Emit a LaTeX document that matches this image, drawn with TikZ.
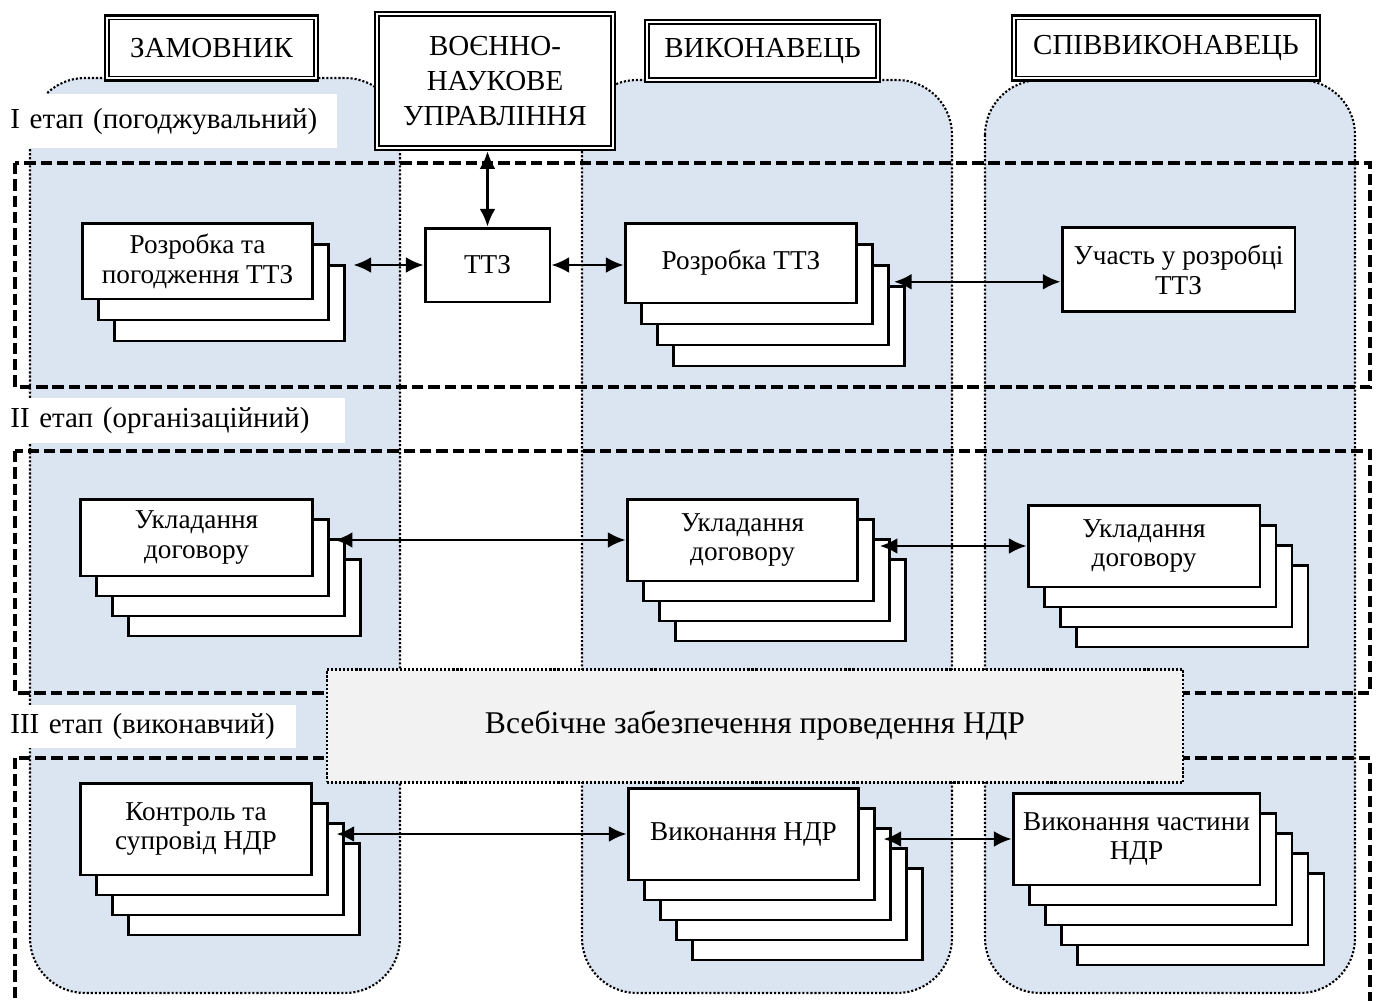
\documentclass[tikz,border=0pt]{standalone}
\usepackage{fontspec}
\setmainfont{Liberation Serif}
\usetikzlibrary{arrows.meta}

\definecolor{laneblue}{RGB}{219,229,241}
\definecolor{supgray}{RGB}{242,242,242}

\tikzset{
  lane/.style={fill=laneblue, draw=black, line width=1.2pt, dash pattern=on 1.2pt off 1.1pt, rounded corners=1.1cm},
  stage/.style={draw=black, line width=2pt, dash pattern=on 6.5pt off 2.8pt},
  stagelbl/.style={fill=white, anchor=north west, align=left, inner xsep=0.2cm, inner ysep=0pt, font=\fontsize{16.5}{20}\selectfont},
  hdr/.style={draw, fill=white, line width=1.5pt, align=center, inner sep=0pt, font=\fontsize{16.5}{20}\selectfont},
  card/.style={draw, fill=white, line width=1.7pt, align=center, inner sep=0pt, minimum width=4.64cm, minimum height=1.56cm, font=\fontsize{15.5}{17}\selectfont},
  support/.style={fill=supgray, draw=black, line width=1.2pt, dash pattern=on 1.2pt off 1.1pt, minimum width=17.12cm, minimum height=2.26cm, font=\fontsize{18}{20}\selectfont},
  link/.style={{Latex[length=10pt,width=9pt]}-{Latex[length=10pt,width=9pt]}, line width=1.4pt}
}

\begin{document}
\begin{tikzpicture}[x=0.02cm, y=-0.02cm]
\useasboundingbox (0,0) rectangle (1378,1000);

% lanes
\draw[lane] (30,78) rectangle (400,993);
\draw[lane] (582,80) rectangle (952,993);
\draw[lane] (985,80) rectangle (1355,993);

% stages
\draw[stage] (15,163) rectangle (1370,387);
\draw[stage] (15,451) rectangle (1370,693);
\draw[stage] (15,758) rectangle (1370,1020);

\node[stagelbl, text width=6.34cm, minimum height=1.08cm] (st1) at (0,94) {I етап (погоджувальний)};
\node[stagelbl, text width=6.5cm, minimum height=0.9cm] (st2) at (0,398) {II етап (організаційний)};
\node[stagelbl, text width=5.52cm, minimum height=0.86cm] (st3) at (0,705) {III етап (виконавчий)};

\node[support] (zab) at (755,726) {Всебічне забезпечення проведення НДР};

% headers
\node[hdr, minimum width=4.26cm, minimum height=1.3cm] (zam) at (211.5,48) {ЗАМОВНИК};
\node[hdr, minimum width=4.8cm, minimum height=2.76cm] (vnu) at (495,81) {ВОЄННО-\\НАУКОВЕ\\УПРАВЛІННЯ};
\node[hdr, minimum width=4.7cm, minimum height=1.24cm] (vyk) at (762.5,51) {ВИКОНАВЕЦЬ};
\node[hdr, minimum width=6.16cm, minimum height=1.3cm] (spv) at (1166,48) {СПІВВИКОНАВЕЦЬ};
\foreach \n in {zam,vnu,vyk,spv}
  \draw[line width=0.7pt] ([shift={(3pt,-3pt)}]\n.north west) rectangle ([shift={(-3pt,3pt)}]\n.south east);

% I stage
\foreach \k in {2,1} \node[card, minimum width=4.62cm, minimum height=1.52cm] (a1-\k) at (197.5+16*\k,261+21*\k) {};
\node[card, minimum width=4.62cm, minimum height=1.52cm] (a1) at (197.5,261) {Розробка та\\погодження ТТЗ};
\node[card, minimum width=2.5cm, minimum height=1.48cm] (ttz) at (487.5,265) {ТТЗ};
\foreach \k in {3,2,1} \node[card, minimum height=1.6cm] (a2-\k) at (741+16*\k,263+21*\k) {};
\node[card, minimum height=1.6cm] (a2) at (741,263) {Розробка ТТЗ};
\node[card, minimum width=4.66cm, minimum height=1.7cm] (a3) at (1178.5,269.5) {Участь у розробці\\ТТЗ};

% II stage
\foreach \k in {3,2,1} \node[card, minimum width=4.66cm, minimum height=1.54cm] (b1-\k) at (196.5+16*\k,537.5+20*\k) {};
\node[card, minimum width=4.66cm, minimum height=1.54cm] (b1) at (196.5,537.5) {Укладання\\договору};
\foreach \k in {3,2,1} \node[card, minimum width=4.62cm, minimum height=1.64cm] (b2-\k) at (742.5+16*\k,540+20*\k) {};
\node[card, minimum width=4.62cm, minimum height=1.64cm] (b2) at (742.5,540) {Укладання\\договору};
\foreach \k in {3,2,1} \node[card, minimum height=1.64cm] (b3-\k) at (1144+16*\k,546+20*\k) {};
\node[card, minimum height=1.64cm] (b3) at (1144,546) {Укладання\\договору};

% III stage
\foreach \k in {3,2,1} \node[card, minimum height=1.84cm] (c1-\k) at (196+16*\k,829+20*\k) {};
\node[card, minimum height=1.84cm] (c1) at (196,829) {Контроль та\\супровід НДР};
\foreach \k in {4,3,2,1} \node[card, minimum width=4.62cm, minimum height=1.84cm] (c2-\k) at (743.5+16*\k,834+20*\k) {};
\node[card, minimum width=4.62cm, minimum height=1.84cm] (c2) at (743.5,834) {Виконання НДР};
\foreach \k in {4,3,2,1} \node[card, minimum width=4.94cm, minimum height=1.84cm] (c3-\k) at (1136.5+16*\k,839+20*\k) {};
\node[card, minimum width=4.94cm, minimum height=1.84cm] (c3) at (1136.5,839) {Виконання частини\\НДР};

% links
\draw[link] (ttz.west) -- ([xshift=4pt]ttz.west -| a1-2.east);
\draw[link] (ttz.north) -- (ttz.north |- vnu.south);
\draw[link] (ttz.east) -- (ttz.east -| a2.west);
\coordinate (a3p) at ([yshift=-7pt]a3.west);
\draw[link] ([xshift=2pt]a3p -| a2-2.east) -- (a3p);
\draw[link] ([xshift=2.5pt]b2.west -| b1-1.east) -- (b2.west);
\draw[link] ([xshift=2.5pt]b3.west -| b2-1.east) -- (b3.west);
\draw[link] ([xshift=4pt]c2.west -| c1-1.east) -- (c2.west);
\draw[link] ([xshift=4pt]c3.west -| c2-1.east) -- (c3.west);
\end{tikzpicture}
\end{document}
